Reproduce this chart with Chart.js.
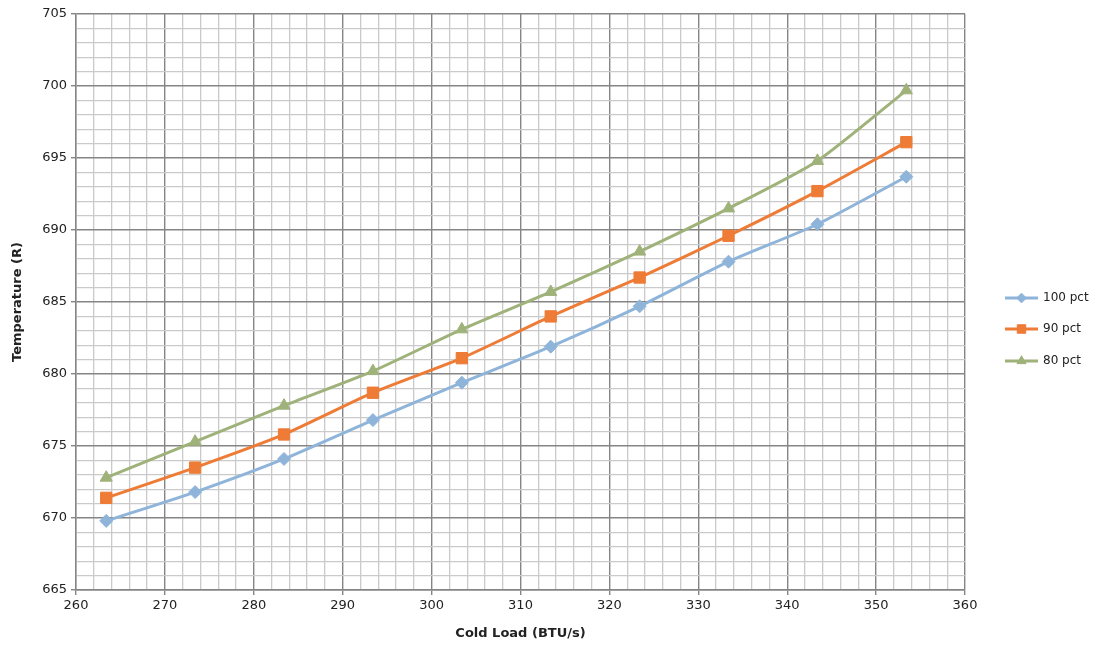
<!DOCTYPE html>
<html>
<head>
<meta charset="utf-8">
<script src="https://cdn.jsdelivr.net/npm/chart.js@4.4.1/dist/chart.umd.min.js"></script>
<style>
  html, body { margin: 0; padding: 0; background: #fff; }
  #wrap { width: 1109px; height: 649px; }
</style>
</head>
<body>
<div id="wrap"><canvas id="c" width="1109" height="649"></canvas></div>
<script>
// Cold load values (BTU/s)
const coldLoad = [263.4, 273.4, 283.4, 293.4, 303.4, 313.4, 323.4, 333.4, 343.4, 353.4];

// Temperature (R) per throttle setting
const temp100 = [669.8, 671.8, 674.1, 676.8, 679.4, 681.9, 684.7, 687.8, 690.4, 693.7];
const temp90  = [671.4, 673.5, 675.8, 678.7, 681.1, 684.0, 686.7, 689.6, 692.7, 696.1];
const temp80  = [672.8, 675.3, 677.8, 680.2, 683.1, 685.7, 688.5, 691.5, 694.8, 699.7];

const seriesNames = ['100 pct', '90 pct', '80 pct'];

// Axis ranges and label steps
const xRange = { min: 260, max: 360, minor: 2, major: 10 };
const yRange = { min: 665, max: 705, minor: 1, major: 5 };

const FONT = '"DejaVu Sans", Lato, sans-serif';
const colors = ['#8fb4da', '#ee7b36', '#9fb27a'];
const shapes = ['rectRot', 'rect', 'triangle'];
const radii = [6.5, 8, 7];

const MAJOR_GRID = '#858585';
const MINOR_GRID = '#cacaca';

function pts(ys) { return coldLoad.map((x, i) => ({ x: x, y: ys[i] })); }

function isMajor(v, step) { return Math.abs(v / step - Math.round(v / step)) < 1e-6; }

const datasets = [temp100, temp90, temp80].map((ys, i) => ({
  label: seriesNames[i],
  data: pts(ys),
  borderColor: colors[i],
  backgroundColor: colors[i],
  borderWidth: 3,
  pointStyle: shapes[i],
  pointRadius: radii[i],
  pointHoverRadius: radii[i],
  pointBorderWidth: 1,
  tension: 0.2
}));

// Legend drawn to the right of the plot: a short line with the series marker
const sideLegend = {
  id: 'sideLegend',
  afterDraw(chart) {
    const ctx = chart.ctx;
    const x0 = 1005, x1 = 1038, rows = [298, 329, 361];
    chart.data.datasets.forEach((ds, i) => {
      const y = rows[i];
      ctx.save();
      ctx.strokeStyle = ds.borderColor;
      ctx.lineWidth = 3;
      ctx.beginPath();
      ctx.moveTo(x0, y);
      ctx.lineTo(x1, y);
      ctx.stroke();
      ctx.fillStyle = ds.backgroundColor;
      ctx.strokeStyle = ds.borderColor;
      ctx.lineWidth = 1;
      Chart.helpers.drawPoint(ctx, { pointStyle: ds.pointStyle, radius: ds.pointRadius * 0.75, borderWidth: 1 }, (x0 + x1) / 2, y);
      ctx.fillStyle = '#222';
      ctx.font = '12px ' + FONT;
      ctx.textBaseline = 'middle';
      ctx.textAlign = 'left';
      ctx.fillText(ds.label, x1 + 5, y);
      ctx.restore();
    });
  }
};

function gridOpts(step) {
  return {
    drawTicks: true,
    tickLength: 5,
    color: (c) => isMajor(c.tick.value, step) ? MAJOR_GRID : MINOR_GRID,
    tickColor: (c) => isMajor(c.tick.value, step) ? MAJOR_GRID : 'rgba(0,0,0,0)',
    lineWidth: (c) => isMajor(c.tick.value, step) ? 1.4 : 1.3
  };
}

new Chart(document.getElementById('c'), {
  type: 'line',
  data: { datasets: datasets },
  plugins: [sideLegend],
  options: {
    responsive: false,
    animation: false,
    layout: { padding: { left: 0, right: 144, top: 14, bottom: 0 } },
    plugins: { legend: { display: false }, tooltip: { enabled: false } },
    scales: {
      x: {
        type: 'linear',
        min: xRange.min, max: xRange.max,
        afterFit(s) { s.height = 59; },
        ticks: {
          stepSize: xRange.minor,
          autoSkip: false,
          maxRotation: 0,
          color: '#222',
          font: { family: FONT, size: 13 },
          padding: 3,
          callback: (v) => isMajor(v, xRange.major) ? String(v) : ''
        },
        grid: gridOpts(xRange.major),
        border: { color: MAJOR_GRID, width: 1.4 },
        title: {
          display: true,
          text: 'Cold Load (BTU/s)',
          color: '#222',
          font: { family: FONT, size: 13, weight: 'bold' },
          padding: { top: 4, bottom: 8 }
        }
      },
      y: {
        type: 'linear',
        min: yRange.min, max: yRange.max,
        afterFit(s) { s.width = 76; },
        ticks: {
          stepSize: yRange.minor,
          autoSkip: false,
          color: '#222',
          font: { family: FONT, size: 13 },
          padding: 4,
          callback: (v) => isMajor(v, yRange.major) ? String(v) : ''
        },
        grid: gridOpts(yRange.major),
        border: { color: MAJOR_GRID, width: 1.4 },
        title: {
          display: true,
          text: 'Temperature (R)',
          color: '#222',
          font: { family: FONT, size: 13, weight: 'bold' },
          padding: { top: 10, bottom: 0 }
        }
      }
    }
  }
});
</script>
</body>
</html>
